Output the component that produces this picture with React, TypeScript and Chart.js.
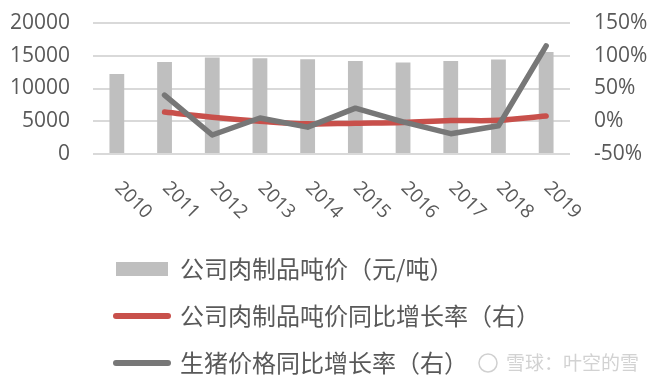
import React, { useEffect, useRef } from "react";
import { Chart, registerables } from "chart.js";

Chart.register(...registerables);

const categories = ["2010", "2011", "2012", "2013", "2014", "2015", "2016", "2017", "2018", "2019"];
const meatPricePerTon = [12230, 14060, 14730, 14620, 14470, 14210, 13970, 14210, 14420, 15580];
const meatPriceYoY = [null, 14, 6, 0, -4, -3, -2, 1, 1.5, 8];
const hogPriceYoY = [null, 40, -21, 5, -9, 20, -1, -19, -7, 115];

const labelBar = "公司肉制品吨价（元/吨）";
const labelRed = "公司肉制品吨价同比增长率（右）";
const labelGray = "生猪价格同比增长率（右）";
const watermark = "雪球：叶空的雪";

const BAR_COLOR = "#bfbfbf";
const RED = "#c8504b";
const GRAY = "#777777";
const TEXT = "#595959";

const xLabelsPlugin = {
  id: "xLabelsRotated",
  afterDraw(chart: any) {
    const { ctx, chartArea } = chart;
    const x = chart.scales.x;
    ctx.save();
    ctx.font = '19px "Open Sans"';
    ctx.fillStyle = TEXT;
    ctx.textAlign = "left";
    ctx.textBaseline = "middle";
    x.ticks.forEach((t: any, i: number) => {
      const px = x.getPixelForTick(i);
      ctx.save();
      ctx.translate(px + 1, chartArea.bottom + 31);
      ctx.rotate(Math.PI / 4);
      ctx.fillText(String(x.getLabelForValue(t.value)), 0, 0);
      ctx.restore();
    });
    ctx.restore();
  },
};

const watermarkPlugin = {
  id: "watermark",
  afterDraw(chart: any) {
    const { ctx } = chart;
    ctx.save();
    ctx.strokeStyle = "#d0d0d0";
    ctx.lineWidth = 1.5;
    ctx.beginPath();
    ctx.arc(488, 363, 9, 0, Math.PI * 2);
    ctx.stroke();
    ctx.font = '19px "Noto Sans CJK SC"';
    ctx.fillStyle = "#d2d2d2";
    ctx.textAlign = "left";
    ctx.textBaseline = "middle";
    ctx.fillText(watermark, 506, 363);
    ctx.restore();
  },
};

export default function App() {
  const ref = useRef<HTMLCanvasElement>(null);

  useEffect(() => {
    if (!ref.current) return;
    const chart = new Chart(ref.current, {
      type: "bar",
      data: {
        labels: categories,
        datasets: [
          {
            type: "bar",
            label: labelBar,
            data: meatPricePerTon,
            backgroundColor: BAR_COLOR,
            yAxisID: "y",
            categoryPercentage: 1,
            barPercentage: 0.31,
            order: 3,
          },
          {
            type: "line",
            label: labelRed,
            data: meatPriceYoY,
            borderColor: RED,
            backgroundColor: RED,
            borderWidth: 5.5,
            pointRadius: 0,
            tension: 0.4,
            borderCapStyle: "round",
            borderJoinStyle: "round",
            yAxisID: "y1",
            order: 2,
          },
          {
            type: "line",
            label: labelGray,
            data: hogPriceYoY,
            borderColor: GRAY,
            backgroundColor: GRAY,
            borderWidth: 5.5,
            pointRadius: 0,
            tension: 0,
            borderCapStyle: "round",
            borderJoinStyle: "round",
            yAxisID: "y1",
            order: 1,
          },
        ] as any,
      },
      options: {
        animation: false,
        responsive: true,
        maintainAspectRatio: false,
        layout: { padding: { top: 23, bottom: 5, left: 0, right: 0 } },
        plugins: {
          tooltip: { enabled: false },
          legend: {
            position: "bottom",
            align: "start",
            fullSize: false,
            labels: {
              usePointStyle: true,
              pointStyleWidth: 52,
              boxHeight: 14,
              padding: 23,
              color: TEXT,
              font: { family: '"Noto Sans CJK SC"', size: 24 },
              generateLabels: (c: any) =>
                c.data.datasets.map((ds: any, i: number) => ({
                  text: ds.label,
                  datasetIndex: i,
                  fillStyle: i === 0 ? BAR_COLOR : ds.borderColor,
                  strokeStyle: i === 0 ? BAR_COLOR : ds.borderColor,
                  lineWidth: i === 0 ? 0 : 6,
                  pointStyle: i === 0 ? "rect" : "line",
                  lineCap: "round",
                  hidden: false,
                  fontColor: TEXT,
                })),
            },
          },
        },
        scales: {
          x: {
            grid: { display: false },
            border: { display: false },
            ticks: { display: false },
            afterFit: (s: any) => {
              s.height = 80;
            },
          },
          y: {
            position: "left",
            min: 0,
            max: 20000,
            ticks: {
              stepSize: 5000,
              padding: 23,
              color: TEXT,
              font: { family: '"Open Sans"', size: 21 },
              callback: (v: any) => String(v),
            },
            grid: { color: "#d9d9d9", lineWidth: 2, drawTicks: false },
            border: { display: false },
            afterFit: (s: any) => {
              s.width = 93;
              s.paddingTop = 0;
              s.paddingBottom = 0;
            },
          },
          y1: {
            position: "right",
            min: -50,
            max: 150,
            ticks: {
              stepSize: 50,
              padding: 24,
              color: TEXT,
              font: { family: '"Open Sans"', size: 21 },
              callback: (v: any) => v + "%",
            },
            grid: { display: false, drawTicks: false },
            border: { display: false },
            afterFit: (s: any) => {
              s.width = 90;
              s.paddingTop = 0;
              s.paddingBottom = 0;
            },
          },
        },
      } as any,
      plugins: [xLabelsPlugin, watermarkPlugin],
    });
    return () => chart.destroy();
  }, []);

  return (
    <div style={{ position: "fixed", left: 0, top: 0, width: 660, height: 390, background: "#fff" }}>
      <canvas ref={ref} />
    </div>
  );
}
